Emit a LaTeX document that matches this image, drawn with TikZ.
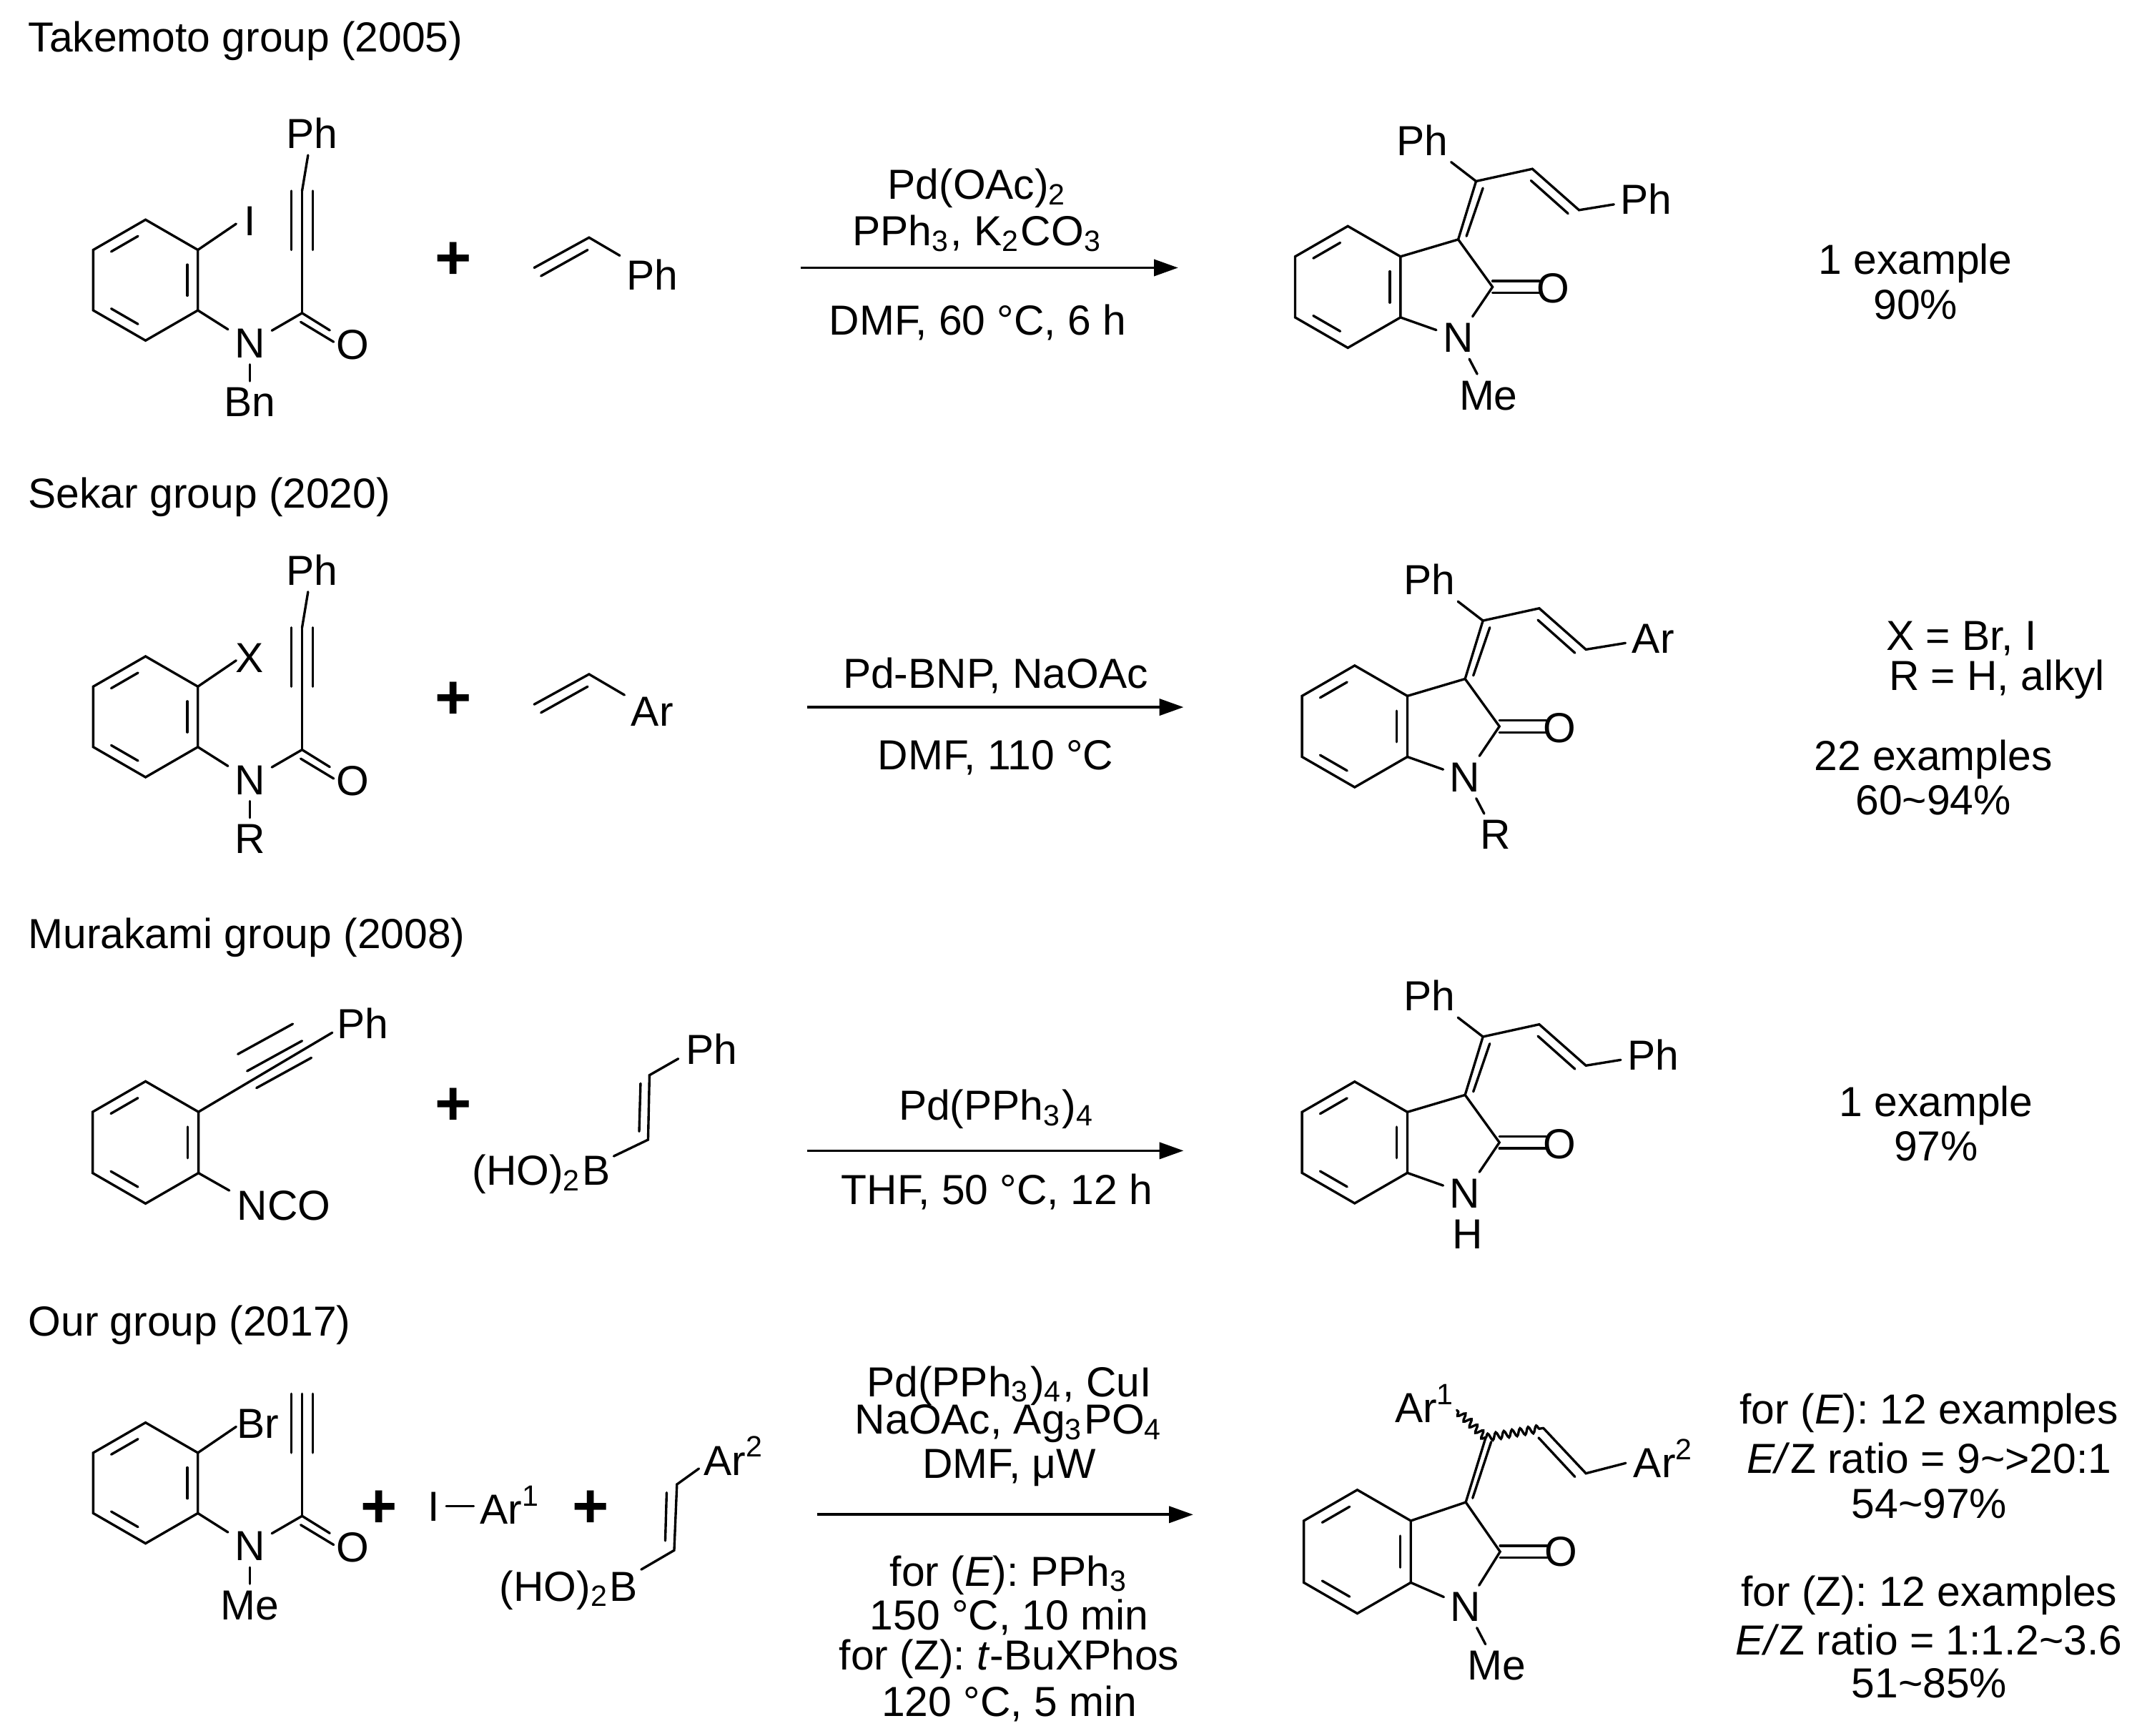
\documentclass[tikz,border=0pt]{standalone}
\usepackage{fontspec}
\setmainfont{Liberation Sans}
\usetikzlibrary{calc,arrows.meta,decorations.pathmorphing}
\newcommand\lf{\fontsize{8.7}{10.4}\selectfont}
\tikzset{bond/.style={line width=0.5pt, line cap=round},
  lab/.style={inner sep=1.2pt, font=\lf},
  txt/.style={inner sep=0pt, font=\lf},
  plus/.style={inner sep=0pt, font=\fontsize{13}{13}\selectfont\bfseries},
  rxn/.style={line width=0.55pt, -{Triangle[length=5pt,width=3.4pt]}},
  wavy/.style={bond, decorate, decoration={snake, segment length=1.7pt, amplitude=0.75pt}}}
% benzene: name, cx, cy, r (units)
\newcommand\bz[4]{%
 \coordinate (#1c) at ({#2},{#3});
 \foreach \i/\a in {1/90,2/30,3/-30,4/-90,5/-150,6/150}{\coordinate (#1\i) at ({#2+#4*cos(\a)},{#3-#4*sin(\a)});}
 \draw[bond] (#11)--(#12)--(#13)--(#14)--(#15)--(#16)--cycle;
 \draw[bond] ($(#16)!.18!(#11)!.2!(#1c)$) -- ($(#11)!.18!(#16)!.2!(#1c)$);
 \draw[bond] ($(#12)!.18!(#13)!.2!(#1c)$) -- ($(#13)!.18!(#12)!.2!(#1c)$);
 \draw[bond] ($(#14)!.18!(#15)!.2!(#1c)$) -- ($(#15)!.18!(#14)!.2!(#1c)$);
}
% amide reactant: prefix, dy, X, R, xlab
\newcommand\reactA[5]{%
 \bz{#1r}{106}{204+#2}{44}
 \coordinate (#1c) at ({220},{228+#2});
 \coordinate (#1t) at ({220},{139+#2});
 \coordinate (#1xe) at ({172},{163+#2});
 \node[lab] (#1x) at ({#5},{161+#2}) {#3};
 \node[lab] (#1n) at ({182},{250+#2}) {N};
 \node[lab] (#1o) at ({257},{251+#2}) {O};
 \node[lab] (#1s) at ({182},{293+#2}) {#4};
 \draw[bond] (#1r2) -- (#1xe);
 \draw[bond] (#1r3) -- (#1n) -- (#1c) -- (#1o);
 \draw[bond] ({219},{234.5+#2}) -- ({243},{249+#2});
 \draw[bond] (#1n) -- (#1s);
 \draw[bond] (#1c) -- (#1t);
 \draw[bond] ({212.3},{182+#2}) -- ({212.3},{139+#2});
 \draw[bond] ({227.7},{182+#2}) -- ({227.7},{139+#2});
}
% styrene: prefix, dy, label
\newcommand\styr[3]{%
 \coordinate (#1a) at ({389},{195+#2});
 \coordinate (#1b) at ({429},{173+#2});
 \node[lab] (#1l) at ({475},{200+#2}) {#3};
 \draw[bond] (#1a) -- (#1b) -- (#1l);
 \draw[bond] ({394},{201+#2}) -- ({428},{182+#2});
}
% oxindole product: prefix, dx, dy, Ph1, Ph2, sub
\newcommand\oxprod[6]{%
 \bz{#1b}{981.6+#2}{209+#3}{44.3}
 \coordinate (#1c3) at ({1062+#2},{174.4+#3});
 \coordinate (#1c2) at ({1087+#2},{209+#3});
 \coordinate (#1cx) at ({1075+#2},{132+#3});
 \coordinate (#1ch) at ({1116+#2},{123+#3});
 \coordinate (#1cj) at ({1150+#2},{153+#3});
 \node[lab] (#1o) at ({1131+#2},{210+#3}) {O};
 \node[lab] (#1n) at ({1062+#2},{246+#3}) {N};
 \node[lab] (#1p) at ({1036+#2},{102+#3}) {#4};
 \node[lab] (#1q) at ({1199+#2},{145+#3}) {#5};
 \node[lab] (#1s) at ({1084+#2},{288+#3}) {#6};
 \draw[bond] (#1b2) -- (#1c3) -- (#1c2) -- (#1n) -- (#1b3);
 \draw[bond] ({1087+#2},{204.7+#3}) -- ({1121+#2},{204.7+#3});
 \draw[bond] ({1087+#2},{213.3+#3}) -- ({1121+#2},{213.3+#3});
 \draw[bond] (#1c3) -- (#1cx) -- (#1p);
 \draw[bond] ({1068+#2},{172+#3}) -- ({1080+#2},{137+#3});
 \draw[bond] (#1cx) -- (#1ch) -- (#1cj) -- (#1q);
 \draw[bond] ({1115+#2},{131.5+#3}) -- ({1142+#2},{155.5+#3});
}
\begin{document}
\begin{tikzpicture}[x=0.01cm,y=-0.01cm]
\fill[white] (0,0) rectangle (1560,1264);
\useasboundingbox (0,0) rectangle (1560,1264);

% ---------- Row 1 ----------
\node[txt, anchor=west] (h1) at (20,30) {Takemoto group (2005)};
\reactA{a}{0}{I}{Bn}{182}
\node[lab] (aph) at (227,97) {Ph};
\draw[bond] (at) -- (aph);
\node[plus] (pl1) at (330,190) {+};
\styr{sa}{0}{Ph}
\coordinate (r1s) at (583,195); \coordinate (r1e) at (858,195);
\draw[rxn] (r1s) -- (r1e);
\node[txt] (c1a) at (712,137) {Pd(OAc)\textsubscript{2}};
\node[txt] (c1b) at (712,170) {PPh\textsubscript{3}, K\textsubscript{2}CO\textsubscript{3}};
\node[txt] (c1c) at (712,235) {DMF, 60 °C, 6 h};
\oxprod{p}{0}{0}{Ph}{Ph}{Me}
\draw[bond] (pn) -- (ps);
\node[txt] (y1a) at (1395,192) {1 example};
\node[txt] (y1b) at (1395,222) {90\%};

% ---------- Row 2 ----------
\node[txt, anchor=west] (h2) at (20,362) {Sekar group (2020)};
\reactA{b}{318}{X}{R}{182}
\node[lab] (bph) at (227,415) {Ph};
\draw[bond] (bt) -- (bph);
\node[plus] (pl2) at (330,510) {+};
\styr{sb}{318}{Ar}
\coordinate (r2s) at (588,515); \coordinate (r2e) at (862,515);
\draw[rxn] (r2s) -- (r2e);
\node[txt] (c2a) at (725,492) {Pd-BNP, NaOAc};
\node[txt] (c2b) at (725,552) {DMF, 110 °C};
\oxprod{q}{5}{320}{Ph}{Ar}{R}
\draw[bond] (qn) -- (qs);
\node[txt, anchor=west] (y2a) at (1373,465) {X = Br, I};
\node[txt, anchor=west] (y2b) at (1375,495) {R = H, alkyl};
\node[txt] (y2c) at (1408,553) {22 examples};
\node[txt] (y2d) at (1408,583) {60\textasciitilde94\%};

% ---------- Row 3 ----------
\node[txt, anchor=west] (h3) at (20,683) {Murakami group (2008)};
\bz{cr}{106}{832}{44.5}
\coordinate (ce) at (242,752);
\node[lab] (cph) at (264,745) {Ph};
\draw[bond] (cr2) -- (ce);
\draw[bond] (180,780) -- (220,758);
\draw[bond] ($(180,780)!4pt!90:(220,758)$) -- ($(220,758)!4pt!-90:(180,780)$);
\draw[bond] ($(180,780)!-4pt!90:(220,758)$) -- ($(220,758)!-4pt!-90:(180,780)$);
\coordinate (cne) at (167,867);
\node[lab, anchor=west, inner sep=0pt] (cnco) at (172,878) {NCO};
\draw[bond] (cr3) -- (cne);
\node[plus] (pl3) at (330,806) {+};
\node[lab, anchor=east, inner sep=0pt] (cb) at (445,855) {(HO)\textsubscript{2}B};
\coordinate (cb1) at (447,842); \coordinate (cb2) at (472,830);
\coordinate (cb3) at (473,783); \coordinate (cb4) at (494,771);
\node[lab, anchor=west, inner sep=0pt] (cbph) at (499,764) {Ph};
\draw[bond] (cb1) -- (cb2) -- (cb3) -- (cb4);
\draw[bond] (465.5,824) -- (466.5,789);
\coordinate (r3s) at (588,838); \coordinate (r3e) at (862,838);
\draw[rxn] (r3s) -- (r3e);
\node[txt] (c3a) at (726,808) {Pd(PPh\textsubscript{3})\textsubscript{4}};
\node[txt] (c3b) at (726,868) {THF, 50 °C, 12 h};
\oxprod{u}{5}{623}{Ph}{Ph}{}
\node[lab] (uh) at (1069,899) {H};
\node[txt] (y3a) at (1410,805) {1 example};
\node[txt] (y3b) at (1410,835) {97\%};

% ---------- Row 4 ----------
\node[txt, anchor=west] (h4) at (20,965) {Our group (2017)};
\reactA{d}{876}{Br}{Me}{188}
\node[plus] (pl4) at (276,1099) {+};
\node[lab, inner sep=0pt] (di) at (316,1097) {I};
\node[lab, anchor=west, inner sep=0pt] (dar) at (349,1096) {Ar\textsuperscript{1}};
\path (di) ++(9,0) coordinate (dq1) (dar.west) ++(-4,1) coordinate (dq2);
\draw[bond] (dq1) -- (dq2);
\node[plus] (pl5) at (430,1099) {+};
\node[lab, anchor=east, inner sep=0pt] (db) at (465,1158) {(HO)\textsubscript{2}B};
\coordinate (db1) at (467,1143); \coordinate (db2) at (491,1129);
\coordinate (db3) at (493,1081); \coordinate (db4) at (509,1069.5);
\node[lab, anchor=west, inner sep=0pt] (dbar) at (512,1060) {Ar\textsuperscript{2}};
\draw[bond] (db1) -- (db2) -- (db3) -- (db4);
\draw[bond] (484.5,1122) -- (485.5,1087);
\coordinate (r4s) at (595,1103); \coordinate (r4e) at (869,1103);
\draw[rxn] (r4s) -- (r4e);
\node[txt] (c4a) at (735,1009) {Pd(PPh\textsubscript{3})\textsubscript{4}, CuI};
\node[txt] (c4b) at (735,1037) {NaOAc, Ag\textsubscript{3}PO\textsubscript{4}};
\node[txt] (c4c) at (735,1069) {DMF, μW};
\node[txt] (c4d) at (735,1147) {for (\textit{E}): PPh\textsubscript{3}};
\node[txt] (c4e) at (735,1178) {150 °C, 10 min};
\node[txt] (c4f) at (735,1208) {for (Z): \textit{t}-BuXPhos};
\node[txt] (c4g) at (735,1241) {120 °C, 5 min};
% product
\bz{vb}{988.5}{1130}{45}
\coordinate (vc3) at (1067.5,1094);
\coordinate (vc2) at (1092.5,1130);
\coordinate (vcx) at (1082,1047);
\coordinate (vch) at (1124,1040);
\coordinate (vcj) at (1155,1073);
\coordinate (vwe) at (1061,1027);
\coordinate (vae) at (1184,1065.5);
\node[lab] (vo) at (1137,1130) {O};
\node[lab] (vn) at (1067.5,1170) {N};
\node[lab] (vme) at (1090,1213) {Me};
\node[lab, inner sep=0pt] (var1) at (1038,1022) {Ar\textsuperscript{1}};
\node[lab, anchor=west, inner sep=0pt] (var2) at (1189,1062) {Ar\textsuperscript{2}};
\draw[bond] (vb2) -- (vc3) -- (vc2) -- (vn) -- (vb3);
\draw[bond] (vn) -- (vme);
\draw[bond] (1092.5,1125.7) -- (1127,1125.7);
\draw[bond] (1092.5,1134.3) -- (1127,1134.3);
\draw[bond] (vc3) -- (vcx);
\draw[bond] (1072.5,1091) -- (1086,1050);
\draw[wavy] (vcx) -- (vwe);
\draw[wavy] (vcx) -- (vch);
\draw[bond] (vch) -- (vcj) -- (vae);
\draw[bond] (1120.5,1047) -- (1147,1075.5);
\node[txt] (y4a) at (1405,1029) {for (\textit{E}): 12 examples};
\node[txt] (y4b) at (1405,1062) {\textit{E/}Z ratio = 9\textasciitilde{}>20:1};
\node[txt] (y4c) at (1405,1095) {54\textasciitilde97\%};
\node[txt] (y4d) at (1405,1162) {for (Z): 12 examples};
\node[txt] (y4e) at (1405,1194) {\textit{E/}Z ratio = 1:1.2\textasciitilde3.6};
\node[txt] (y4f) at (1405,1226) {51\textasciitilde85\%};
\end{tikzpicture}
\end{document}
